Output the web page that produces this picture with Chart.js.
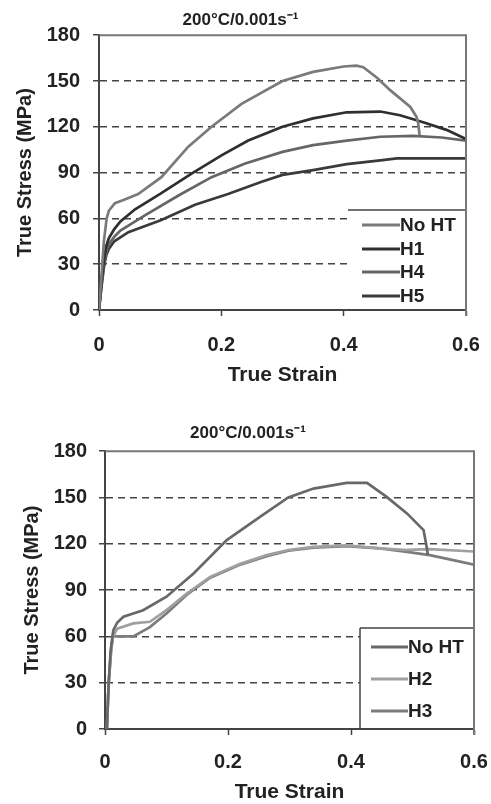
<!DOCTYPE html>
<html>
<head>
<meta charset="utf-8">
<script src="https://cdn.jsdelivr.net/npm/chart.js@4"></script>
<style>
  html, body { margin: 0; padding: 0; background: #fff; }
  #wrap { position: relative; width: 491px; height: 804px; }
  canvas { position: absolute; left: 0; }
</style>
</head>
<body>
<div id="wrap">
  <canvas id="topChart" width="491" height="400" style="top:0"></canvas>
  <canvas id="bottomChart" width="491" height="404" style="top:400px"></canvas>
</div>
<script>
// shared axis ticks
const strainTicks = [0, 0.2, 0.4, 0.6];
const stressTicks = [0, 30, 60, 90, 120, 150, 180];
const titleText = '200°C/0.001s⁻¹';

// top chart: [true strain, true stress (MPa)]
const topNoHT = [[0,0],[0.004,22],[0.008,45],[0.0125,60],[0.016,65],[0.026,70],[0.04,72],[0.064,76],[0.102,87],[0.146,107],[0.184,120],[0.233,135],[0.3,150],[0.35,156],[0.4,159.5],[0.421,160],[0.432,159],[0.455,152],[0.476,144],[0.509,133],[0.519,126.5],[0.522,122],[0.524,114.5]];
const topH1 = [[0,0],[0.004,18],[0.008,33],[0.012,42],[0.016,47],[0.025,53],[0.035,58],[0.059,66],[0.1,76],[0.152,89.5],[0.201,101.5],[0.244,111],[0.3,120],[0.35,125.5],[0.405,129.5],[0.46,130],[0.492,127.6],[0.53,123],[0.568,118],[0.6,112]];
const topH4 = [[0,0],[0.004,16],[0.008,30],[0.012,38],[0.016,43],[0.025,48],[0.035,52],[0.075,62],[0.13,75],[0.184,87],[0.239,96],[0.3,103.6],[0.35,108],[0.405,111],[0.46,113.5],[0.514,114],[0.56,113],[0.6,111]];
const topH5 = [[0,0],[0.004,15],[0.008,28],[0.012,36],[0.016,40],[0.025,45],[0.048,51],[0.102,59],[0.157,69],[0.211,76],[0.266,84],[0.3,88.5],[0.35,91.6],[0.405,95.5],[0.46,98],[0.487,99.3],[0.6,99.3]];

// bottom chart
const botNoHT = [[0.003,0],[0.006,30],[0.009,50],[0.012,60],[0.0136,64],[0.02,69],[0.03,72.7],[0.062,77],[0.1,85.7],[0.144,100.8],[0.198,122.4],[0.252,137.5],[0.298,150],[0.339,155.8],[0.393,159.5],[0.426,159.5],[0.458,150.4],[0.491,139.7],[0.518,128.9],[0.523,118],[0.525,112.7]];
const botH2 = [[0.003,0],[0.006,30],[0.01,50],[0.013,60],[0.02,65],[0.046,68.4],[0.073,69.5],[0.1,77],[0.133,87.8],[0.171,98.6],[0.22,107],[0.263,112.7],[0.298,116],[0.339,118],[0.393,119],[0.447,117],[0.491,116],[0.528,116.5],[0.6,115]];
const botH3 = [[0.003,0],[0.006,30],[0.01,52],[0.013,60],[0.024,60],[0.046,60],[0.073,66],[0.1,74.8],[0.133,87],[0.171,98],[0.22,106.5],[0.263,112],[0.298,115.5],[0.339,117.5],[0.393,118.5],[0.447,117],[0.491,114.8],[0.528,112.7],[0.566,109.4],[0.6,106.5]];

const FONT = "'Liberation Sans', Arial, sans-serif";

function pts(arr) { return arr.map(([x, y]) => ({x: x, y: y})); }

function series(label, data, color) {
  return {
    label: label, data: pts(data), borderColor: color, borderWidth: 2.7,
    pointRadius: 0, tension: 0, fill: false
  };
}

// legend drawn inside the plot, white box over the grid
const legendBox = {
  id: 'legendBox',
  afterDatasetsDraw(chart, args, opts) {
    const ctx = chart.ctx, a = chart.chartArea;
    ctx.save();
    ctx.fillStyle = '#fff';
    ctx.fillRect(opts.left, opts.top, a.right - opts.left, a.bottom - opts.top - 1);
    ctx.strokeStyle = '#444';
    ctx.lineWidth = 1.5;
    ctx.beginPath();
    ctx.moveTo(opts.left, opts.top);
    ctx.lineTo(a.right, opts.top);
    if (opts.boxed) {
      ctx.moveTo(opts.left, opts.top);
      ctx.lineTo(opts.left, a.bottom);
    }
    ctx.stroke();
    ctx.font = 'bold 19px ' + FONT;
    ctx.textBaseline = 'middle';
    chart.data.datasets.forEach((ds, i) => {
      const y = opts.rows[i];
      ctx.strokeStyle = ds.borderColor;
      ctx.lineWidth = 3;
      ctx.beginPath();
      ctx.moveTo(opts.lineX0, y);
      ctx.lineTo(opts.lineX1, y);
      ctx.stroke();
      ctx.fillStyle = '#222';
      ctx.fillText(ds.label, opts.lineX1, y + 1);
    });
    ctx.restore();
  }
};

// top and right edges of the plot box
const frame = {
  id: 'frame',
  afterDatasetsDraw(chart) {
    const ctx = chart.ctx, a = chart.chartArea;
    ctx.save();
    ctx.strokeStyle = '#777';
    ctx.lineWidth = 2;
    ctx.beginPath();
    ctx.moveTo(a.left, a.top);
    ctx.lineTo(a.right, a.top);
    ctx.lineTo(a.right, a.bottom + 6);
    ctx.stroke();
    ctx.restore();
  }
};

function makeChart(id, datasets, lay) {
  return new Chart(document.getElementById(id), {
    type: 'line',
    data: { datasets: datasets },
    plugins: [legendBox, frame],
    options: {
      responsive: false,
      animation: false,
      layout: { padding: lay.padding },
      plugins: {
        legend: { display: false },
        tooltip: { enabled: false },
        title: {
          display: true, text: titleText, color: '#222',
          font: { family: FONT, size: 17, weight: 'bold', lineHeight: 1.2 },
          padding: lay.titlePad
        },
        legendBox: lay.legend
      },
      scales: {
        x: {
          type: 'linear', min: strainTicks[0], max: strainTicks[strainTicks.length - 1],
          afterBuildTicks: s => { s.ticks = strainTicks.map(v => ({value: v})); },
          afterFit: s => { s.height = lay.xHeight; s.paddingLeft = 0; s.paddingRight = 0; },
          ticks: {
            color: '#222', padding: lay.xTickPad,
            font: { family: FONT, size: 20, weight: 'bold' },
            callback: v => String(+v.toFixed(1))
          },
          grid: { drawOnChartArea: false, tickLength: 6, tickColor: '#444', tickWidth: 1.5 },
          border: { color: '#444', width: 2 },
          title: {
            display: true, text: 'True Strain', color: '#222', padding: 0,
            font: { family: FONT, size: 21, weight: 'bold', lineHeight: 1 }
          }
        },
        y: {
          min: stressTicks[0], max: stressTicks[stressTicks.length - 1],
          afterBuildTicks: s => { s.ticks = stressTicks.map(v => ({value: v})); },
          afterFit: s => { s.width = lay.yWidth; s.paddingTop = 0; s.paddingBottom = 0; },
          ticks: {
            color: '#222', padding: lay.yTickPad,
            font: { family: FONT, size: 20, weight: 'bold' }
          },
          grid: {
            color: c => (c.tick && c.tick.value > 0 && c.tick.value < 180) ? '#444' : 'rgba(0,0,0,0)',
            lineWidth: 1.5, tickLength: 6, tickColor: '#444', tickWidth: 1.5
          },
          border: { color: '#444', width: 2, dash: [7, 5] },
          title: {
            display: true, text: 'True Stress (MPa)', color: '#222', padding: 0,
            font: { family: FONT, size: 20, weight: 'bold', lineHeight: 1 }
          }
        }
      }
    }
  });
}

makeChart('topChart', [
  series('No HT', topNoHT, '#7a7a7a'),
  series('H1', topH1, '#2f2f2f'),
  series('H4', topH4, '#666666'),
  series('H5', topH5, '#3a3a3a')
], {
  padding: { left: 15, right: 25, top: 0, bottom: 14.5 },
  titlePad: { top: 9.8, bottom: 5 },
  xHeight: 75.5, yWidth: 84, yTickPad: 13, xTickPad: 17,
  legend: { left: 348, top: 210, lineX0: 362, lineX1: 400, rows: [225, 249, 272, 296], boxed: false }
});

makeChart('bottomChart', [
  series('No HT', botNoHT, '#686868'),
  series('H2', botH2, '#a0a0a0'),
  series('H3', botH3, '#7c7c7c')
], {
  padding: { left: 22, right: 17, top: 0, bottom: 1.5 },
  titlePad: { top: 22.8, bottom: 8 },
  xHeight: 73.5, yWidth: 83, yTickPad: 12, xTickPad: 15,
  legend: { left: 360, top: 228, lineX0: 371, lineX1: 408, rows: [247, 279, 311], boxed: true }
});
</script>
</body>
</html>
